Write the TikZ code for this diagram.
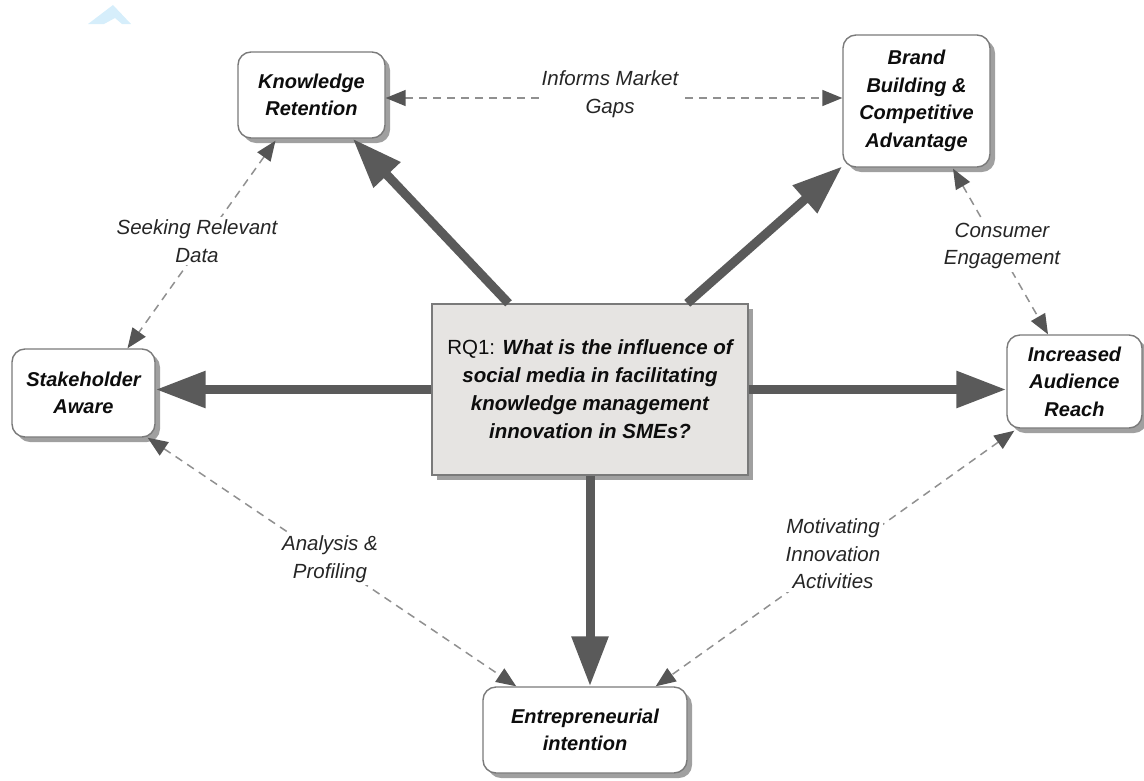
\documentclass[tikz,border=0pt]{standalone}
\usepackage{fontspec}
\setmainfont{Liberation Sans}
\usetikzlibrary{arrows.meta,calc,shadows}
\definecolor{boxline}{HTML}{7A7A7A}
\definecolor{shadowgray}{HTML}{A0A0A0}
\definecolor{rqfill}{HTML}{E6E4E2}
\definecolor{arrowgray}{HTML}{5A5A5A}
\definecolor{dashgray}{HTML}{909090}
\definecolor{tipgray}{HTML}{555555}
\definecolor{chevronblue}{HTML}{D6EEFB}

\begin{document}
\begin{tikzpicture}[x=1pt,y=-1pt,
  concept/.style={draw=boxline, line width=1.4pt, fill=white, rounded corners=13pt,
    align=center, inner sep=0pt, text=black!95,
    font=\fontsize{20}{27.5}\selectfont\bfseries\itshape,
    drop shadow={shadow xshift=5pt, shadow yshift=-5pt, fill=shadowgray, opacity=1}},
  question/.style={draw=boxline, line width=1.4pt, fill=rqfill,
    align=center, inner sep=0pt, text=black!95,
    font=\fontsize{20.5}{28}\selectfont\bfseries\itshape,
    drop shadow={shadow xshift=5pt, shadow yshift=-5pt, fill=shadowgray, opacity=1}},
  influence/.style={draw=arrowgray, line width=9pt,
    -{Triangle[length=50pt,width=35pt]}},
  relation/.style={draw=dashgray, line width=1.5pt, dash pattern=on 8pt off 6pt,
    {Triangle[length=20pt,width=16pt,color=tipgray]}-{Triangle[length=20pt,width=16pt,color=tipgray]}},
  edgelabel/.style={fill=white, inner sep=3pt, align=center, text=black!85,
    font=\fontsize{20.5}{27.5}\selectfont\itshape}]

\useasboundingbox (0,0) rectangle (1144,780);

% small logo mark in the corner
\fill[chevronblue] (88,24) -- (113,5) -- (131,24) -- (122,24) -- (115,18) -- (104,24) -- cycle;

% concepts
\node[question, minimum width=316pt, minimum height=171pt] (rq) at (590,389.5)
  {{\mdseries\upshape RQ1:} What is the influence of\\social media in facilitating\\knowledge management\\innovation in SMEs?};
\node[concept, minimum width=147pt, minimum height=86pt] (kr) at (311.5,95) {Knowledge\\Retention};
\node[concept, minimum width=147pt, minimum height=132pt] (bb) at (916.5,101) {Brand\\Building \&\\Competitive\\Advantage};
\node[concept, minimum width=143pt, minimum height=88pt] (sa) at (83.5,393) {Stakeholder\\Aware};
\node[concept, minimum width=135pt, minimum height=93pt] (iar) at (1074.5,381.5) {Increased\\Audience\\Reach};
\node[concept, minimum width=204pt, minimum height=86pt] (ei) at (585,730) {Entrepreneurial\\intention};

% influence of the research question on each concept
\draw[influence] (rq) -- (kr);
\draw[influence] (rq) -- (bb);
\draw[influence] (rq.west) -- (rq.west -| sa.east);
\draw[influence] (rq.east) -- (rq.east -| iar.west);
\draw[influence] (rq.south) -- (rq.south |- ei.north);

% relations between concepts
\draw[relation] ($(kr.east)+(0,3)$) -- ($(kr.east -| bb.west)+(0,3)$);
\draw[relation] ($(kr.south)+(-36,2)$) -- ($(sa.north)+(44,0)$);
\draw[relation] ($(bb.south)+(36.5,1)$) -- ($(iar.north)+(-26.5,0)$);
\draw[relation] ($(sa.south east)+(-8,0)$) -- ($(ei.north west)+(34,0)$);
\draw[relation] ($(iar.south west)+(8,2)$) -- ($(ei.north east)+(-32,0)$);

% relation labels
\node[edgelabel] (lgaps) at (610,94) {Informs Market\\Gaps};
\node[edgelabel] (ldata) at (197,241) {Seeking Relevant\\Data};
\node[edgelabel] (lengage) at (1002,246) {Consumer\\Engagement};
\node[edgelabel] (lprofile) at (330,559) {Analysis \&\\Profiling};
\node[edgelabel] (lmotiv) at (833,554) {Motivating\\Innovation\\Activities};

\end{tikzpicture}
\end{document}
